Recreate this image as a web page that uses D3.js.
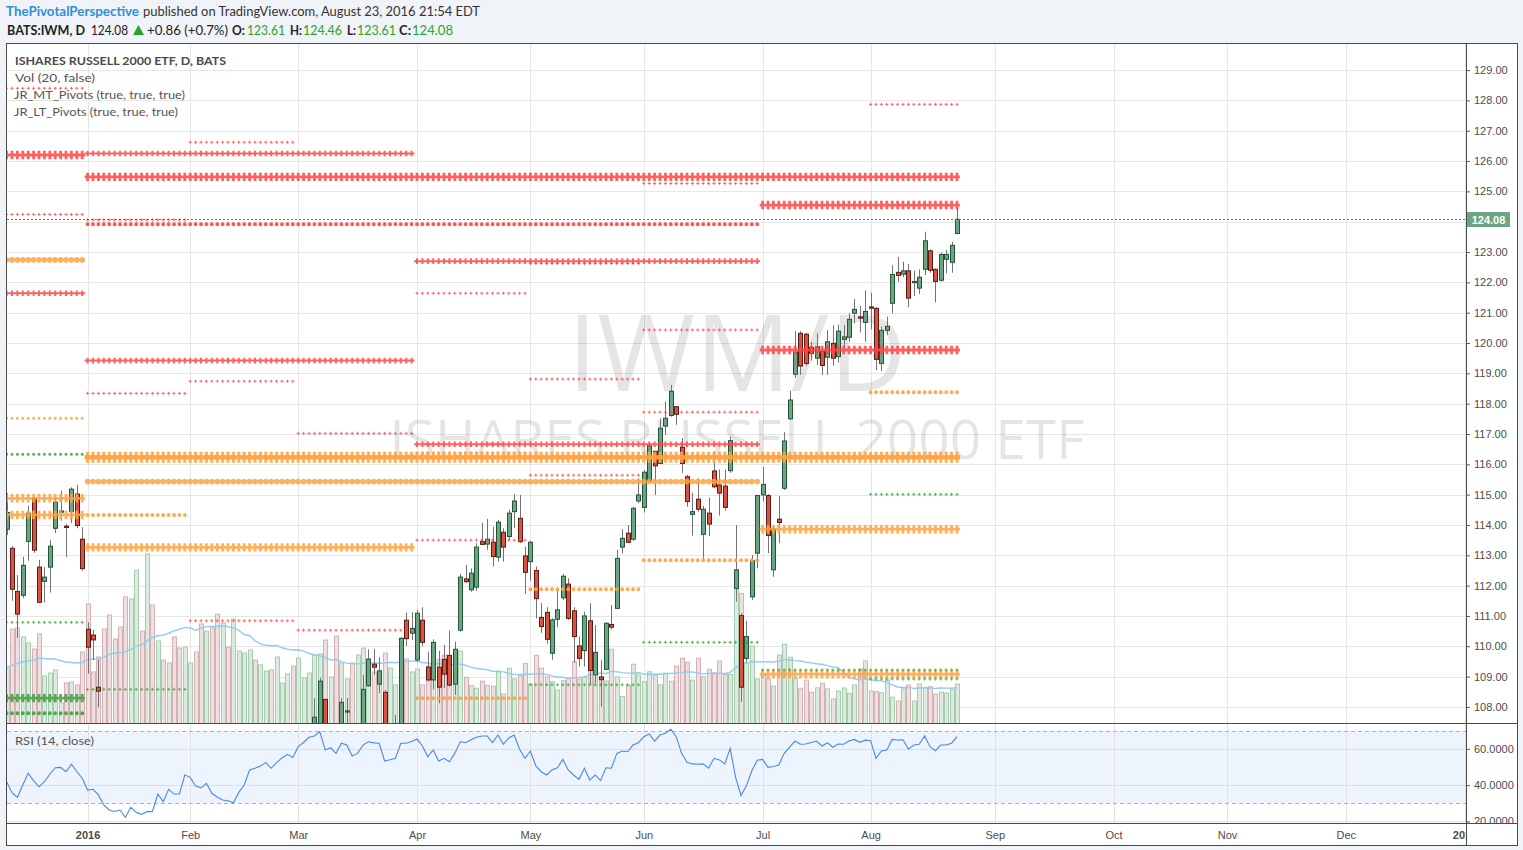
<!DOCTYPE html>
<html><head><meta charset="utf-8">
<script src="https://cdnjs.cloudflare.com/ajax/libs/d3/7.8.5/d3.min.js"></script>
<style>
html,body{margin:0;padding:0;background:#f0f3f7;}
svg{display:block;}
</style></head><body>
<svg id="chart" width="1523" height="850"></svg>
<script>
// ---------------- DATA ----------------
// daily bars, index 0 = 10 Dec 2015 ... index 176 = 23 Aug 2016
const opens = [113.86,113.23,111.81,111.68,113.46,114.88,112.61,112.14,112.61,113.89,114.42,113.96,114.44,115.02,113.53,
110.56,110.37,108.65,106.6,105.5,104.0,104.4,104.0,101.3,99.5,101.0,97.6,99.3,100.3,101.0,99.1,101.2,100.6,100.6,
101.9,102.1,100.8,100.3,101.0,97.8,95.6,97.0,94.6,95.6,98.0,99.6,101.4,99.9,100.9,101.4,99.2,101.4,102.7,102.8,
103.2,104.8,105.8,106.6,107.2,108.25,106.6,107.3,106.9,107.83,107.3,106.8,107.2,108.70,109.41,108.75,108.48,107.0,107.0,107.4,110.86,110.43,
109.55,110.86,109.31,108.89,109.31,109.57,109.70,108.75,110.53,112.22,111.86,111.95,113.45,113.37,113.43,112.94,113.76,113.62,114.44,114.22,112.98,
112.79,112.50,110.95,111.12,109.77,110.89,111.60,112.05,111.17,110.01,109.86,110.84,109.06,108.99,109.24,110.72,111.25,113.27,113.73,113.53,114.79,
114.58,115.45,116.43,116.03,117.26,117.61,117.90,116.56,115.59,114.35,114.85,113.69,114.39,115.78,115.32,115.28,115.79,111.91,111.01,109.60,111.63,113.07,
114.99,114.97,112.52,114.19,115.21,117.50,118.97,120.32,120.29,119.85,119.50,119.72,119.53,119.99,119.55,120.12,120.19,120.98,120.86,120.68,
121.19,121.14,119.33,120.42,121.31,122.33,122.27,122.38,121.99,121.81,122.43,123.04,122.43,122.07,122.76,122.66,123.61];
const highs = [115.05,113.31,112.35,112.95,114.63,114.95,112.85,112.61,113.51,114.91,115.13,114.03,115.24,115.32,113.93,
110.79,110.54,109.55,107.2,105.9,104.3,104.7,104.4,103.0,101.2,101.7,99.8,100.4,101.6,101.2,101.1,102.0,100.9,102.7,
103.0,102.3,101.3,101.8,101.0,97.9,97.2,97.9,95.9,97.1,98.9,101.2,101.9,100.4,102.0,101.7,101.2,102.4,103.3,103.7,
104.9,105.8,106.6,108.29,108.97,108.25,107.3,107.4,108.29,108.29,107.4,107.4,109.06,109.90,109.90,109.64,108.56,107.4,107.74,110.30,111.11,111.13,
111.20,111.29,109.82,110.23,109.85,110.04,110.52,110.15,112.39,112.68,112.57,113.40,114.08,114.20,113.94,114.17,113.89,114.50,115.02,114.99,113.28,
113.48,112.63,111.43,111.29,110.92,111.86,112.39,112.24,111.29,110.32,111.14,111.42,110.70,109.55,110.79,111.36,113.18,113.86,114.00,114.60,115.54,
115.81,116.69,116.44,117.52,118.07,118.62,117.92,116.86,115.65,115.06,115.54,114.63,114.90,116.44,115.83,115.83,116.91,114.00,111.10,110.84,113.01,114.99,
115.92,115.02,113.94,114.96,117.06,118.43,120.39,120.39,120.34,120.04,120.32,119.88,120.43,120.59,120.61,120.59,120.98,121.45,121.22,121.74,
121.66,121.18,120.54,120.87,122.57,122.84,122.68,122.61,122.39,122.43,123.67,123.09,122.46,122.98,123.07,123.34,124.46];
const lows = [113.67,111.50,110.27,111.59,112.82,113.08,111.42,111.44,111.77,113.73,114.14,112.94,114.06,113.89,112.49,
109.09,109.55,107.99,104.8,103.5,102.4,102.8,100.9,99.9,98.9,99.2,94.8,98.1,99.9,98.8,98.7,99.2,98.6,100.1,
101.4,99.8,98.6,99.8,98.0,95.5,95.2,96.1,93.6,95.3,97.3,99.2,100.0,99.2,100.8,100.1,98.3,100.8,102.3,102.3,
103.0,104.3,105.4,106.3,106.9,106.2,106.1,105.9,106.7,107.3,106.4,106.3,107.1,108.67,109.06,108.45,106.9,106.6,106.3,107.2,110.01,110.21,
109.49,110.00,108.84,108.58,108.12,108.62,108.67,108.40,110.48,112.08,111.80,111.83,113.34,113.18,112.63,112.79,112.79,113.51,113.89,113.40,111.73,
112.16,110.92,110.44,110.08,109.55,110.63,111.53,110.87,109.46,109.33,109.33,108.73,108.78,108.01,109.22,110.56,111.25,113.07,113.40,113.48,114.72,
114.41,115.40,114.99,116.01,116.97,117.57,117.30,115.71,114.60,113.65,114.44,112.85,113.64,115.21,114.31,114.47,115.72,111.47,108.17,109.49,111.53,112.57,
114.77,113.07,112.29,113.40,115.15,117.46,118.84,118.95,119.25,119.42,119.28,118.95,118.95,119.25,119.35,119.82,120.04,120.65,120.35,120.04,
120.45,119.11,119.08,120.27,120.98,122.02,122.17,121.18,121.55,121.62,122.24,122.32,121.34,122.02,122.30,122.32,123.61];
const closes = [114.41,111.88,111.06,112.67,114.39,113.17,111.45,112.28,113.30,114.75,114.46,113.92,115.18,113.98,112.56,
109.97,110.21,108.52,105.0,103.6,103.3,103.9,101.1,102.6,100.5,99.5,98.6,99.0,101.3,98.9,100.9,99.7,99.9,102.6,
102.9,99.9,100.4,101.3,98.4,96.5,96.1,96.4,94.9,97.0,98.9,101.2,100.2,100.2,101.9,100.2,101.1,102.3,102.8,102.5,
104.8,105.7,106.5,107.66,108.85,106.5,107.1,106.9,108.15,107.87,106.9,107.3,108.58,109.58,109.31,109.19,107.1,107.3,107.4,110.26,110.25,110.59,
111.09,110.13,108.89,110.13,108.65,109.08,108.72,109.90,112.28,112.13,112.41,113.27,113.36,113.53,112.96,114.09,113.27,114.39,114.79,113.45,112.44,
113.43,111.57,110.65,110.23,110.87,111.20,112.31,110.92,110.32,109.60,111.00,109.20,109.80,108.90,110.76,110.63,112.90,113.56,113.43,114.55,114.99,
115.74,116.61,115.95,117.19,117.52,118.41,117.65,116.03,114.77,114.44,114.52,114.52,114.03,115.26,115.05,114.58,116.78,112.52,108.65,110.32,112.82,114.97,
115.34,113.65,113.86,114.08,116.77,118.12,119.70,119.24,119.33,119.66,119.88,119.26,120.04,119.50,120.39,120.20,120.78,121.11,120.82,121.04,
121.15,119.46,120.42,120.55,122.26,122.23,122.38,121.48,122.03,122.17,123.37,122.40,122.03,122.92,122.92,123.22,124.08];
// volume, millions of shares
const volumes = [25.0,42.7,43.2,39.1,36.4,33.6,40.5,21.4,22.7,24.1,9.1,18.2,18.6,17.3,32.3,
54.1,23.2,30.0,42.7,49.1,38.2,43.6,57.3,56.4,69.5,41.8,76.8,53.6,37.3,28.6,27.3,39.1,34.1,34.5,
27.3,32.3,45.0,41.8,43.2,49.5,45.5,34.5,47.3,32.7,31.8,33.2,28.6,26.4,23.6,24.1,30.0,18.2,22.3,25.9,
29.5,20.5,22.7,30.9,31.4,37.7,20.9,39.5,27.3,20.0,27.3,30.9,34.1,28.6,23.2,22.7,31.8,25.0,17.3,38.6,29.1,23.2,
24.5,17.3,25.9,25.1,29.0,30.9,27.1,18.0,32.7,20.8,17.1,15.8,19.0,17.1,16.7,23.6,13.2,24.9,20.0,21.5,27.1,
17.7,30.8,24.9,21.0,18.8,15.0,19.2,20.3,27.9,20.0,20.8,37.7,29.9,19.5,19.1,33.5,21.0,12.0,17.1,26.7,21.8,
18.8,23.3,21.8,17.3,22.6,19.0,25.9,29.4,27.6,19.5,29.4,21.0,24.4,22.6,28.2,22.1,22.1,60.9,58.9,27.6,35.0,20.0,
22.0,20.0,16.8,30.9,35.8,29.9,20.3,15.8,19.5,14.0,16.0,18.0,15.5,10.9,14.5,15.9,13.5,17.3,24.5,28.2,
14.5,14.2,13.8,19.5,11.7,10.0,15.5,17.3,10.0,17.7,16.2,16.5,13.2,14.0,13.6,15.1,17.7];
// volume of the 19 sessions before the first bar (feeds the 20-day volume average)
const volumesBefore = [24,27,22,30,26,21,25,28,23,26,29,24,22,27,25,23,28,26,24];
// RSI(14, close)
const rsiValues = [41.9,35.8,33.3,40.1,46.5,42.5,39.1,41.9,46.0,49.6,49.8,47.4,51.5,47.5,43.8,
37.3,37.7,34.6,29.1,26.3,25.5,26.3,22.3,27.8,25.0,23.9,25.4,25.4,35.1,30.9,37.7,35.1,35.1,45.6,
44.3,39.5,38.5,41.0,35.5,33.5,31.8,31.4,30.3,36.0,40.1,48.4,49.3,50.5,52.4,49.3,52.4,55.0,57.0,55.3,
61.2,63.5,66.4,67.1,69.5,59.4,60.6,57.5,63.1,62.1,56.1,57.5,62.1,63.9,63.3,63.1,53.3,54.0,54.8,63.1,63.1,64.0,
65.4,61.6,55.7,59.4,53.3,54.8,52.9,57.5,63.9,63.4,65.0,66.4,67.1,67.1,63.4,67.6,62.5,66.0,67.6,59.8,54.8,
58.8,50.6,47.4,45.6,48.4,49.6,54.2,48.4,45.6,43.2,49.3,42.8,45.6,42.5,49.6,49.3,57.5,58.8,58.4,62.1,63.4,
66.7,68.2,64.3,67.6,68.6,70.8,66.7,57.5,52.6,51.7,51.5,51.7,49.3,54.8,53.9,51.7,60.3,44.3,34.3,39.6,47.9,53.7,
54.2,49.8,50.3,51.1,57.5,61.0,64.3,62.5,62.7,63.5,64.3,61.6,63.4,60.9,62.7,62.5,64.3,65.2,63.6,64.8,
64.5,54.8,58.8,59.4,65.2,64.9,65.0,59.8,62.1,62.5,67.1,61.2,59.0,62.1,62.1,63.1,66.7];
// time axis: label and bar index of each month start (future months continue on weekdays)
const monthLabels = ["2016","Feb","Mar","Apr","May","Jun","Jul","Aug","Sep","Oct","Nov","Dec","2017"];
const monthBars   = [15,34,54,76,97,118,140,160,183,205,226,248,270];
const priceTicks = [108,109,110,111,112,113,114,115,116,117,118,119,120,121,122,123,124,125,126,127,128,129];
const rsiTicks = [20,40,60];
const lastPrice = 124.08;
// pivot levels: [price, first bar, last bar, side (R resistance / P pivot / S support), tier]
const pivotLevels = [
 [126.20,-1,14,'R',3],[125.48,15,176,'R',3],[124.55,140,176,'R',3],[119.77,140,176,'R',3],
 [126.25,15,75,'R',2],[121.64,-1,14,'R',2],[122.70,76,139,'R',2],[119.42,15,75,'R',2],[116.66,76,139,'R',2],
 [123.92,15,139,'R',5],
 [128.40,-1,14,'R',1],[124.24,-1,14,'R',1],[124.06,15,33,'R',1],[118.34,15,33,'R',1],
 [126.62,34,53,'R',1],[118.74,34,53,'R',1],[110.84,34,53,'R',1],[117.02,54,75,'R',1],[110.53,54,75,'R',1],
 [121.64,76,96,'R',1],[113.50,76,96,'R',1],[118.81,97,117,'R',1],[115.64,97,117,'R',1],[122.62,97,117,'R',1],
 [125.26,118,139,'R',1],[120.43,118,139,'R',1],[117.72,118,139,'R',1],[127.87,160,176,'R',1],
 [116.38,76,96,'P',1],
 [114.88,-1,14,'P',3],[114.33,-1,14,'P',3],[116.23,15,176,'P',7],[113.26,15,75,'P',3],[113.86,140,176,'P',3],[109.08,140,176,'P',3],
 [122.74,-1,14,'P',6],[115.43,15,139,'P',6],
 [114.33,15,33,'P',5],[111.88,97,117,'P',5],[112.84,118,139,'P',5],[108.29,76,96,'P',5],[118.38,160,176,'P',5],
 [117.52,-1,14,'P',4],
 [116.33,-1,14,'S',4],[110.79,-1,14,'S',1],[108.29,-1,14,'S',3],[107.79,-1,14,'S',5],
 [108.58,15,33,'S',1],[108.73,97,117,'S',1],[110.13,118,139,'S',1],[115.01,160,176,'S',1],[109.22,140,176,'S',1],[108.92,160,176,'S',1]
];

// ---------------- LAYOUT ----------------
const W = 1523, H = 850;
const L = 7, R = 1466, PT = 44, PB = 723, RT = 724, RB = 823, AB = 845;
const svg = d3.select('#chart');
const FONT = "Lato, 'Open Sans', sans-serif";
const AXF = "'Liberation Sans', Arial, sans-serif";

const x = d3.scaleLinear().domain([0, 270]).range([6.6, 1464.6]);
const y = d3.scaleLinear().domain([107.47, 129.86]).range([PB, PT]);
const yVol = d3.scaleLinear().domain([0, 100]).range([PB, PB - 220]);
const yRsi = d3.scaleLinear().domain([30, 70]).range([803.3, 730.7]);

svg.append('rect').attr('width', W).attr('height', H).attr('fill', '#f0f3f7');
svg.append('rect').attr('x', 6.5).attr('y', 43.5).attr('width', 1511).attr('height', 802)
  .attr('fill', '#fff');

const defs = svg.append('defs');
defs.append('clipPath').attr('id', 'cp').append('rect').attr('x', L).attr('y', PT).attr('width', R - L).attr('height', PB - PT);
defs.append('clipPath').attr('id', 'cr').append('rect').attr('x', L).attr('y', RT).attr('width', R - L).attr('height', RB - RT);
defs.append('clipPath').attr('id', 'cra').append('rect').attr('x', R).attr('y', RT).attr('width', 60).attr('height', RB - RT);
defs.append('clipPath').attr('id', 'cda').append('rect').attr('x', L).attr('y', RB).attr('width', R - L).attr('height', AB - RB);

// ---------- grid ----------
const grid = svg.append('g');
grid.selectAll('line.hp').data(priceTicks).join('line')
  .attr('x1', L).attr('x2', R).attr('y1', d => Math.round(y(d)) + 0.5).attr('y2', d => Math.round(y(d)) + 0.5)
  .attr('stroke', '#e6e6e6');
const vb = monthBars.filter(b => x(b) < R);
grid.selectAll('line.vp').data(vb).join('line')
  .attr('x1', d => Math.round(x(d)) + 0.5).attr('x2', d => Math.round(x(d)) + 0.5).attr('y1', PT).attr('y2', PB)
  .attr('stroke', '#e6e6e6');

// ---------- watermark ----------
const wm = svg.append('g').attr('clip-path', 'url(#cp)').attr('fill', '#000').attr('fill-opacity', 0.1)
  .attr('font-family', "'Open Sans', sans-serif").attr('text-anchor', 'middle');
wm.append('text').attr('x', 737).attr('y', 391).attr('font-size', 106).text('IWM/D');
wm.append('text').attr('x', 737).attr('y', 459).attr('font-size', 54)
  .attr('textLength', 695).attr('lengthAdjust', 'spacingAndGlyphs').text('ISHARES RUSSELL 2000 ETF');

// ---------- volume ----------
const bars = d3.range(opens.length);
const up = i => closes[i] >= opens[i];
const pv = svg.append('g').attr('clip-path', 'url(#cp)');
pv.selectAll('rect.vol').data(bars).join('rect')
  .attr('x', i => Math.round(x(i)) - 1.5).attr('width', 4)
  .attr('y', i => yVol(volumes[i])).attr('height', i => PB - yVol(volumes[i]) + 2)
  .attr('fill', i => up(i) ? '#dcebde' : '#eee0e1')
  .attr('stroke', i => up(i) ? '#a6cdb0' : '#d4b2b4').attr('stroke-width', 1);
// 20-period volume average
const allVol = volumesBefore.concat(volumes);
const off = volumesBefore.length;
const volMA = bars.map(i => d3.mean(allVol.slice(Math.max(0, i + off - 19), i + off + 1)));
pv.append('path').datum(bars)
  .attr('d', d3.line().x(i => x(i)).y(i => yVol(volMA[i])))
  .attr('fill', 'none').attr('stroke', '#8fcbf3').attr('stroke-width', 1.4);

// ---------- candles ----------
const pc = svg.append('g').attr('clip-path', 'url(#cp)');
pc.selectAll('line.wick').data(bars).join('line')
  .attr('x1', i => Math.round(x(i)) + 0.5).attr('x2', i => Math.round(x(i)) + 0.5)
  .attr('y1', i => y(highs[i])).attr('y2', i => y(lows[i]))
  .attr('stroke', '#737375').attr('stroke-width', 1);
pc.selectAll('rect.body').data(bars).join('rect')
  .attr('x', i => Math.round(x(i)) - 1.5).attr('width', 4)
  .attr('y', i => y(Math.max(opens[i], closes[i])))
  .attr('height', i => Math.max(1, Math.abs(y(opens[i]) - y(closes[i]))))
  .attr('fill', i => up(i) ? '#6ba583' : '#d75442')
  .attr('stroke', i => up(i) ? '#225437' : '#5b1a13').attr('stroke-width', 1);

// ---------- pivots ----------
const sideColor = { R: '#ff4545', P: '#ffa23f', S: '#3f9e3f' };
const tierStyle = {
  1: { kind: 'cross', h: 1.6, v: 1.6, sw: 1, op: 0.75 },
  2: { kind: 'cross', h: 2.9, v: 2.8, sw: 2, op: 0.85 },
  3: { kind: 'cross', h: 2.9, v: 4.2, sw: 2.8, op: 0.85 },
  4: { kind: 'dot', r: 1.5, op: 0.85 },
  5: { kind: 'dot', r: 2.0, op: 0.9 },
  6: { kind: 'dot', r: 2.8, op: 0.85 },
  7: { kind: 'cross', h: 2.9, v: 5.5, sw: 3.2, op: 0.85, band: 4.5 }
};
const pp = svg.append('g').attr('clip-path', 'url(#cp)');
pivotLevels.forEach(([price, from, to, side, tier]) => {
  const st = tierStyle[tier];
  const yy = y(price);
  const col = sideColor[side];
  let d = '';
  if (st.kind === 'cross') {
    for (let i = from; i <= to; i++) {
      const cx = x(i);
      d += `M${cx - st.h},${yy}H${cx + st.h}M${cx},${yy - st.v}V${yy + st.v}`;
    }
    if (st.band) {
      pp.append('line').attr('x1', x(from) - st.h).attr('x2', x(to) + st.h).attr('y1', yy).attr('y2', yy)
        .attr('stroke', col).attr('stroke-width', st.band).attr('stroke-opacity', 0.8);
    }
    pp.append('path').attr('d', d).attr('fill', 'none').attr('stroke', col)
      .attr('stroke-width', st.sw).attr('stroke-opacity', st.op);
  } else {
    for (let i = from; i <= to; i++) {
      const cx = x(i);
      d += `M${cx - st.r},${yy}a${st.r},${st.r} 0 1,0 ${2 * st.r},0a${st.r},${st.r} 0 1,0 ${-2 * st.r},0`;
    }
    pp.append('path').attr('d', d).attr('fill', col).attr('fill-opacity', st.op);
  }
});

// last price line
pp.append('line').attr('x1', L).attr('x2', R).attr('y1', Math.round(y(lastPrice)) + 0.5).attr('y2', Math.round(y(lastPrice)) + 0.5)
  .attr('stroke', '#3f8f5e').attr('stroke-dasharray', '2,2');

// ---------- RSI pane ----------
const rs = svg.append('g').attr('clip-path', 'url(#cr)');
rs.append('rect').attr('x', L).attr('width', R - L).attr('y', yRsi(70)).attr('height', yRsi(30) - yRsi(70))
  .attr('fill', '#eef4fd');
rs.selectAll('line.rg').data(rsiTicks).join('line')
  .attr('x1', L).attr('x2', R).attr('y1', d => Math.round(yRsi(d)) + 0.5).attr('y2', d => Math.round(yRsi(d)) + 0.5)
  .attr('stroke', '#dcdfe5');
rs.selectAll('line.rv').data(vb).join('line')
  .attr('x1', d => Math.round(x(d)) + 0.5).attr('x2', d => Math.round(x(d)) + 0.5).attr('y1', RT).attr('y2', RB)
  .attr('stroke', '#e2e2e2');
rs.selectAll('line.band').data([70, 30]).join('line')
  .attr('x1', L).attr('x2', R).attr('y1', d => Math.round(yRsi(d)) + 0.5).attr('y2', d => Math.round(yRsi(d)) + 0.5)
  .attr('stroke', '#aeb3bb').attr('stroke-dasharray', '4,3');
rs.append('path').datum(bars)
  .attr('d', d3.line().x(i => x(i)).y(i => yRsi(rsiValues[i])))
  .attr('fill', 'none').attr('stroke', '#4a88e0').attr('stroke-width', 1.1);

// ---------- axes ----------
const styleAxis = g => {
  g.select('.domain').remove();
  g.selectAll('.tick line').attr('stroke', '#555');
  g.selectAll('.tick text').attr('fill', '#4c4c4c').attr('font-family', AXF).attr('font-size', 11);
};
svg.append('g').attr('transform', `translate(${R},0)`)
  .call(d3.axisRight(y).tickValues(priceTicks).tickFormat(d3.format('.2f')).tickSize(4).tickPadding(4))
  .call(styleAxis);
svg.append('g').attr('clip-path', 'url(#cra)').append('g').attr('transform', `translate(${R},0)`)
  .call(d3.axisRight(yRsi).tickValues(rsiTicks).tickFormat(d3.format('.4f')).tickSize(4).tickPadding(4))
  .call(styleAxis);
const da = svg.append('g').attr('clip-path', 'url(#cda)').append('g').attr('transform', `translate(0,${RB})`)
  .call(d3.axisBottom(x).tickValues(monthBars).tickFormat((d, i) => monthLabels[i]).tickSize(0).tickPadding(8))
  .call(styleAxis);
da.selectAll('.tick text').attr('font-weight', (d, i) => /^\d/.test(monthLabels[i]) ? 'bold' : 'normal');

// last price tag
const tag = svg.append('g');
tag.append('rect').attr('x', R + 1).attr('y', Math.round(y(lastPrice)) - 7).attr('width', 43).attr('height', 15).attr('fill', '#6ba583');
tag.append('text').attr('x', R + 22.5).attr('y', Math.round(y(lastPrice)) + 4.5).attr('text-anchor', 'middle')
  .attr('fill', '#fff').attr('font-family', AXF).attr('font-size', 11).attr('font-weight', 'bold').text(lastPrice.toFixed(2));

// frame & dividers
const fr = svg.append('g').attr('stroke', '#4a4a4a').attr('fill', 'none');
fr.append('rect').attr('x', 6.5).attr('y', 43.5).attr('width', 1511).attr('height', 802);
fr.append('line').attr('x1', R + 0.5).attr('x2', R + 0.5).attr('y1', 44).attr('y2', AB);
fr.append('line').attr('x1', 7).attr('x2', 1517).attr('y1', PB + 0.5).attr('y2', PB + 0.5);
fr.append('line').attr('x1', 7).attr('x2', 1517).attr('y1', RB + 0.5).attr('y2', RB + 0.5);

// ---------- legends ----------
const lg = svg.append('g').attr('font-family', FONT).attr('font-size', 12).attr('fill', '#555');
lg.append('text').attr('x', 15).attr('y', 65).attr('font-weight', 'bold').attr('fill', '#4a4a4a')
  .attr('textLength', 211).attr('lengthAdjust', 'spacingAndGlyphs').text('ISHARES RUSSELL 2000 ETF, D, BATS');
lg.append('text').attr('x', 15).attr('y', 82).attr('textLength', 80).attr('lengthAdjust', 'spacingAndGlyphs').text('Vol (20, false)');
lg.append('text').attr('x', 14).attr('y', 99).attr('textLength', 171).attr('lengthAdjust', 'spacingAndGlyphs').text('JR_MT_Pivots (true, true, true)');
lg.append('text').attr('x', 14).attr('y', 116).attr('textLength', 164).attr('lengthAdjust', 'spacingAndGlyphs').text('JR_LT_Pivots (true, true, true)');
lg.append('text').attr('x', 15).attr('y', 745).attr('textLength', 79).attr('lengthAdjust', 'spacingAndGlyphs').text('RSI (14, close)');

// ---------- header ----------
const hd = svg.append('g').attr('font-family', FONT).attr('font-size', 13.5);
const t = (xx, yy, s, w, col, bold) => hd.append('text').attr('x', xx).attr('y', yy).attr('fill', col)
  .attr('font-weight', bold ? 'bold' : 'normal').attr('textLength', w).attr('lengthAdjust', 'spacingAndGlyphs').text(s);
t(6, 16, 'ThePivotalPerspective', 133, '#2e8fd6', true);
t(143, 16, 'published on TradingView.com, August 23, 2016 21:54 EDT', 337, '#333', false);
t(7, 35, 'BATS:IWM, D', 78, '#222', true);
t(91, 35, '124.08', 37, '#222', false);
hd.append('path').attr('d', 'M133,35L138.5,25L144,35Z').attr('fill', '#2aa52a');
t(147, 35, '+0.86 (+0.7%)', 81, '#222', false);
t(232, 35, 'O:', 13, '#222', true); t(247, 35, '123.61', 38, '#2aa52a', false);
t(290, 35, 'H:', 12, '#222', true); t(303, 35, '124.46', 39, '#2aa52a', false);
t(347, 35, 'L:', 9, '#222', true); t(357, 35, '123.61', 39, '#2aa52a', false);
t(399, 35, 'C:', 12, '#222', true); t(412, 35, '124.08', 41, '#2aa52a', false);
</script>
</body></html>
